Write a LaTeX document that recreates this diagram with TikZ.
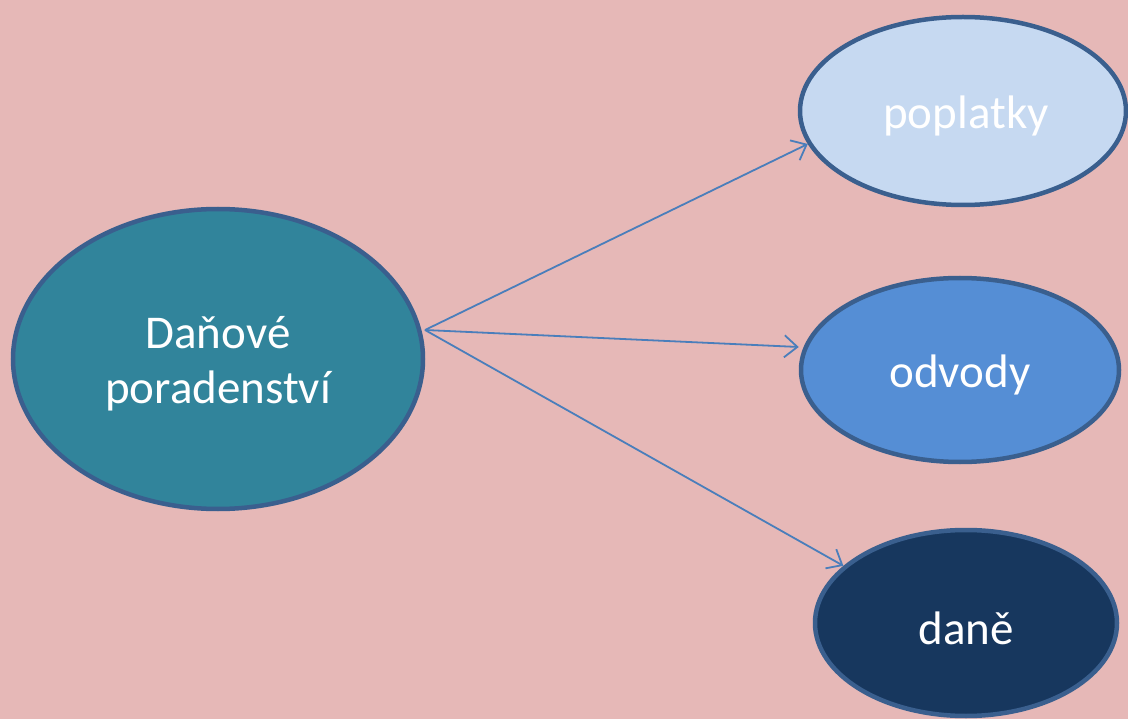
\documentclass[tikz,border=0pt]{standalone}
\usepackage{fontspec}
\setmainfont{Carlito}
\usetikzlibrary{shapes.geometric,arrows.meta}
\definecolor{bg}{HTML}{E6B8B7}
\definecolor{edge}{HTML}{3A5F8E}
\definecolor{teal}{HTML}{31849B}
\definecolor{light}{HTML}{C6D9F1}
\definecolor{mid}{HTML}{558ED5}
\definecolor{dark}{HTML}{17375E}
\definecolor{arr}{HTML}{4A7EBB}
\tikzset{
  oval/.style={ellipse, draw=edge, line width=4.5pt, inner sep=0pt},
  txt/.style={text=white, font=\fontsize{47}{55}\selectfont, align=center, yshift=-5pt},
  link/.style={draw=arr, line width=1.8pt, -{Straight Barb[length=13pt,width=22pt,line width=1.8pt]}}
}
\begin{document}
\begin{tikzpicture}[x=1pt,y=-1pt]
\fill[bg] (0,0) rectangle (1128,719);
\useasboundingbox (0,0) rectangle (1128,719);
\node[oval, fill=teal, minimum width=410pt, minimum height=300pt,
  label={[txt]center:Daňové\\poradenství}] (main) at (218,359) {};
\node[oval, fill=light, minimum width=326pt, minimum height=188pt,
  label={[txt, xshift=3pt]center:poplatky}] (pop) at (963,111) {};
\node[oval, fill=mid, minimum width=318pt, minimum height=184pt,
  label={[txt]center:odvody}] (odv) at (960,370) {};
\node[oval, fill=dark, minimum width=302pt, minimum height=186pt,
  label={[txt]center:daně}] (dan) at (966,623) {};
\coordinate (src) at (425,330);
\draw[link] (src) -- (pop.192);
\draw[link] (src) -- (odv.west |- 0,347);
\draw[link] (src) -- (dan.155);
\end{tikzpicture}
\end{document}
